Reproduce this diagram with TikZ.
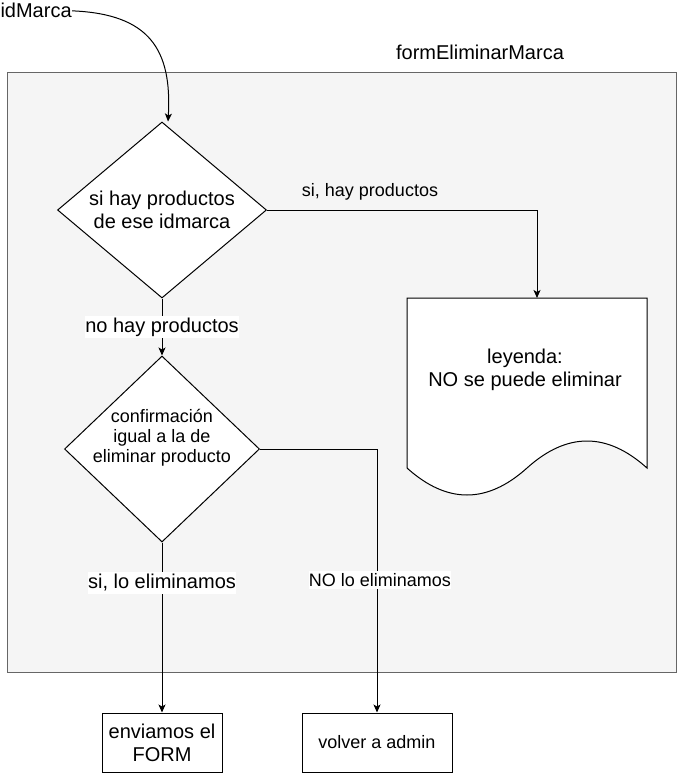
\documentclass[tikz,border=0pt]{standalone}
\usepackage{fontspec}
\setmainfont{Liberation Sans}
\usetikzlibrary{positioning, calc, arrows.meta, shapes.geometric}
\definecolor{formfill}{HTML}{F5F5F5}
\definecolor{formline}{HTML}{666666}
\newcommand{\txtA}{\fontsize{20bp}{23bp}\selectfont}
\newcommand{\txtB}{\fontsize{18bp}{20bp}\selectfont}
\begin{document}
\begin{tikzpicture}[x=1bp, y=-1bp, line width=1bp,
    decision/.style={diamond, draw, fill=white, align=center, inner sep=-15bp},
    action/.style={rectangle, draw, fill=white, align=center},
    flow/.style={-{Stealth[length=8bp, width=7bp, inset=2bp]}},
    edgelbl/.style={fill=white, inner xsep=0bp, inner ysep=2bp}]
      \useasboundingbox (0,0) rectangle (677,773);
      \draw[formline, fill=formfill] (7,72) rectangle (676,672);
      \node[font=\txtA] (formName) at (480,52) {formEliminarMarca};
      \node[font=\txtA, anchor=base west, inner sep=0pt] (idMarca) at (0,18) {idMarca};
      \node[decision, font=\txtA, minimum width=209bp, minimum height=176bp] (dec1) at (162,210)
            {si hay productos\\de ese idmarca};
      \node[decision, font=\txtB, minimum width=195bp, minimum height=186bp] (dec2) at (162,449)
            {confirmación\\igual a la de\\eliminar producto\rule[-26bp]{0pt}{0pt}};
      \draw[fill=white] (407,298) -- (647,298) -- (647,468)
            .. controls (607,432) and (567,432) .. (527,468)
            .. controls (487,504) and (447,504) .. (407,468) -- cycle;
      \node[font=\txtA, align=center] (leyenda) at (525,370) {leyenda:\\NO se puede eliminar};
      \coordinate (leyendaIn) at (537,298);
      \node[action, font=\txtA, minimum width=120bp, minimum height=59bp] (box1) at (162,742.5)
            {enviamos el\\FORM};
      \node[action, font=\txtB, minimum width=150bp, minimum height=59bp] (box2) at (377,742.5)
            {volver a admin};
      \draw[flow] (idMarca.east) .. controls (150,14) and (172,50) .. ([xshift=6bp]dec1.north);
      \draw[flow] (dec1.east) -| (leyendaIn);
      \draw[flow] (dec1.south) -- (dec2.north);
      \draw[flow] (dec2.south) -- (box1.north);
      \draw[flow] (dec2.east) -| (box2.north);
      \node[font=\txtB] (lblSi) at (370,192) {si, hay productos};
      \node[edgelbl, font=\txtA] (lblNo) at (162,327) {no hay productos};
      \node[edgelbl, font=\txtA] (lblElim) at (162,583) {si, lo eliminamos};
      \node[edgelbl, font=\txtB] (lblNoElim) at (380,580) {NO lo eliminamos};
\end{tikzpicture}
\end{document}
